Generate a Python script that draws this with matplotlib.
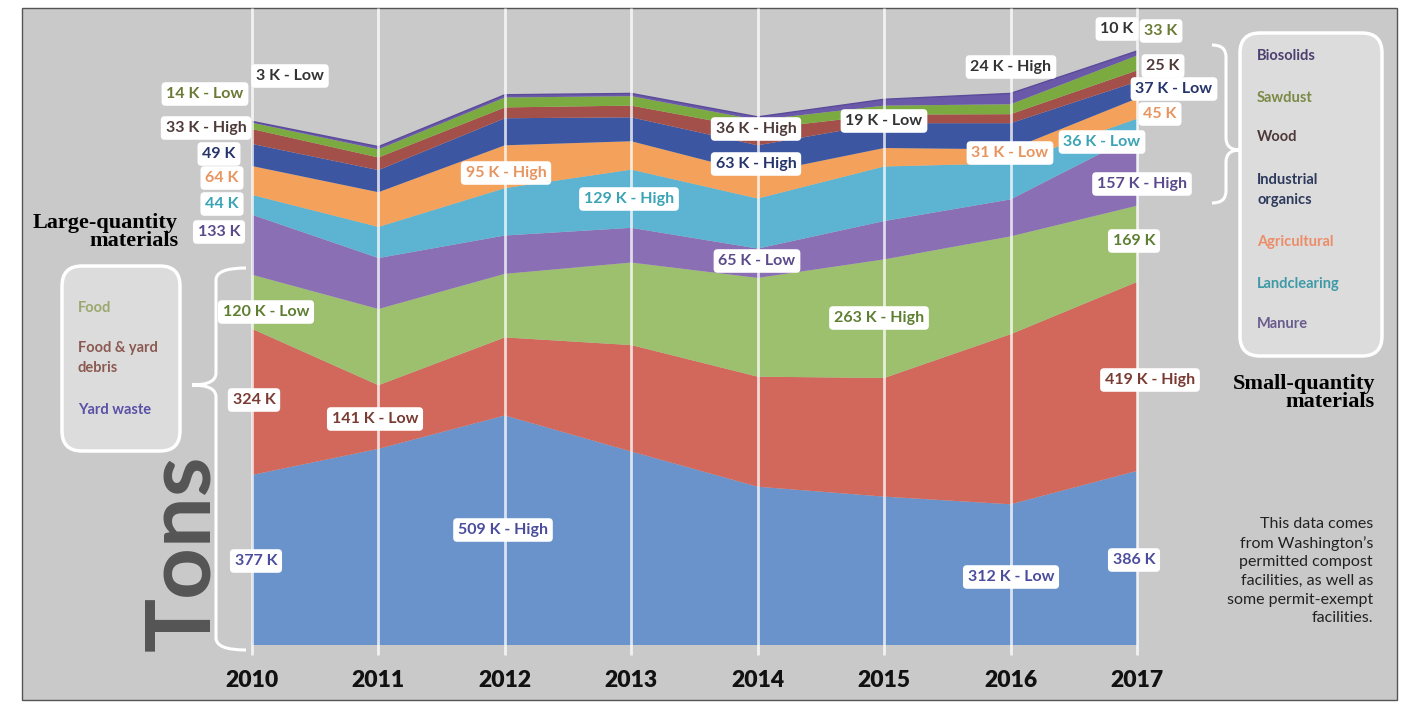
import numpy as np
import matplotlib
matplotlib.use("Agg")
from matplotlib import pyplot as plt
from matplotlib.patches import FancyBboxPatch, PathPatch, Rectangle
from matplotlib.path import Path
from matplotlib.transforms import Affine2D

W, H = 1403, 703

years = [2010, 2011, 2012, 2013, 2014, 2015, 2016, 2017]

# thousands of tons, bottom layer first
yard_waste = [377, 435, 509, 429, 351, 329, 312, 386]
food_yard = [324, 141, 173, 236, 244, 263, 377, 419]
food = [120, 169, 141, 183, 219, 263, 217, 169]
manure = [133, 113, 85, 77, 65, 85, 82, 157]
landclearing = [44, 69, 105, 129, 111, 121, 80, 36]
agricultural = [64, 77, 95, 63, 55, 41, 31, 45]
industrial = [49, 49, 60, 53, 63, 55, 58, 37]
wood = [33, 28, 24, 26, 36, 19, 20, 25]
sawdust = [14, 18, 22, 21, 20, 20, 22, 33]
biosolids = [3, 6, 6, 6, 7, 14, 24, 10]

series = [yard_waste, food_yard, food, manure, landclearing,
          agricultural, industrial, wood, sawdust, biosolids]
colors = ['#6a93cb', '#d1685b', '#9dc06e', '#8b6fb4', '#5db4d2',
          '#f3a15b', '#3d56a1', '#a4504a', '#7bab40', '#6a58a8']

# label text colours per series
c_bio, c_saw, c_wood, c_ind = '#333333', '#6b7a35', '#4e3a38', '#25346a'
c_agr, c_land, c_man = '#e8945f', '#3aa3b5', '#5b4a8c'
c_food, c_fy, c_yard = '#5e7f32', '#7a3b33', '#4b4d9c'

labels = [
    ("3 K - Low", c_bio, 290, 76), ("14 K - Low", c_saw, 205, 94),
    ("33 K - High", c_wood, 206, 128), ("49 K", c_ind, 219, 154),
    ("64 K", c_agr, 222, 178), ("44 K", c_land, 222, 204),
    ("133 K", c_man, 219, 232), ("120 K - Low", c_food, 266, 312),
    ("324 K", c_fy, 254, 400), ("377 K", c_yard, 256, 561),
    ("141 K - Low", c_fy, 375, 419), ("95 K - High", c_agr, 506, 173),
    ("509 K - High", c_yard, 503, 530), ("129 K - High", c_land, 629, 199),
    ("36 K - High", c_wood, 756, 129), ("63 K - High", c_ind, 756, 164),
    ("65 K - Low", c_man, 757, 261), ("19 K - Low", c_bio, 884, 121),
    ("263 K - High", c_food, 879, 318), ("24 K - High", c_bio, 1011, 67),
    ("31 K - Low", c_agr, 1010, 153), ("312 K - Low", c_yard, 1011, 577),
    ("10 K", c_bio, 1117, 29), ("33 K", c_saw, 1161, 31),
    ("25 K", c_wood, 1163, 66), ("37 K - Low", c_ind, 1174, 89),
    ("45 K", c_agr, 1160, 114), ("36 K - Low", c_land, 1102, 142),
    ("157 K - High", c_man, 1142, 184), ("169 K", c_food, 1134, 241),
    ("419 K - High", c_fy, 1150, 380), ("386 K", c_yard, 1134, 560),
]

small_legend = [("Biosolids", '#4d3f70', 56), ("Sawdust", '#7a8a45', 98),
                ("Wood", '#4e3a3a', 137), ("Industrial\norganics", '#2d3a5c', 190),
                ("Agricultural", '#ec8d6a', 242), ("Landclearing", '#3e9aa6', 284),
                ("Manure", '#6a5c8e', 324)]
large_legend = [("Food", '#9aa86d', 308), ("Food & yard\ndebris", '#8a5a52', 358),
                ("Yard waste", '#5a50a6', 410)]

fig = plt.figure(figsize=(W / 100, H / 100), dpi=100, facecolor='white')
px = Affine2D().scale(1 / W, -1 / H).translate(0, 1) + fig.transFigure

# background panel
fig.patches.append(Rectangle((22, 8), 1375, 692, transform=px, fc='#c9c9c9',
                             ec='#555555', lw=1, zorder=-5))

x0, x1, base, kpx = 252, 1137, 645, 0.451
ymax = 1400
ax = fig.add_axes([x0 / W, (H - base) / H, (x1 - x0) / W, ymax * kpx / H])
ax.set_zorder(2)
ax.set_facecolor('none')
ax.stackplot(years, *series, colors=colors, lw=0, zorder=2)
ax.plot(years, np.sum(series, axis=0), color='#5a4a9a', lw=1, zorder=2)
ax.vlines(years, -22, 1412, color='white', lw=2, alpha=0.75, clip_on=False, zorder=3)
ax.set_xlim(2010, 2017)
ax.set_ylim(0, ymax)
for s in ax.spines.values():
    s.set_visible(False)
ax.set_yticks([])
ax.set_xticks(years)
ax.set_xticklabels([str(y) for y in years], fontsize=16.5, fontweight='heavy',
                   family='Lato', color='#111111')
ax.tick_params(axis='x', length=0, pad=18)

for txt, col, lx, ly in labels:
    fig.text(lx, ly, txt, transform=px, ha='center', va='center', color=col,
             fontsize=11.5, fontweight='bold', family='Lato', zorder=6,
             bbox=dict(boxstyle='round,pad=0.3,rounding_size=0.25', fc='white', ec='none'))

# legend boxes
fig.patches.append(FancyBboxPatch((1240, 33), 142, 323, boxstyle='round,pad=0,rounding_size=20',
                                  transform=px, fc='#dcdcdc', ec='white', lw=2.5, zorder=1))
for txt, col, ly in small_legend:
    fig.text(1257, ly, txt, transform=px, ha='left', va='center', color=col,
             fontsize=10.5, fontweight='bold', family='Lato', linespacing=1.55)
fig.patches.append(FancyBboxPatch((62, 266), 118, 185, boxstyle='round,pad=0,rounding_size=20',
                                  transform=px, fc='#dcdcdc', ec='white', lw=2.5, zorder=1))
for txt, col, ly in large_legend:
    fig.text(78, ly, txt, transform=px, ha='left', va='center', color=col,
             fontsize=10.5, fontweight='bold', family='Lato', linespacing=1.55)

fig.text(1375, 393, "Small-quantity\nmaterials", transform=px, ha='right', va='center',
         fontsize=16, fontweight='bold', family='Liberation Serif', linespacing=0.9)
fig.text(178, 232, "Large-quantity\nmaterials", transform=px, ha='right', va='center',
         fontsize=16, fontweight='bold', family='Liberation Serif', linespacing=0.9)

# braces
def brace(x_end, x_mid, x_tip, y0, ytip, y1):
    r = 12
    verts = [(x_end, y0), (x_mid, y0), (x_mid, y0 + r), (x_mid, ytip - r),
             (x_mid, ytip), (x_tip, ytip), (x_mid, ytip), (x_mid, ytip + r),
             (x_mid, y1 - r), (x_mid, y1), (x_end, y1)]
    codes = [Path.MOVETO, Path.CURVE3, Path.CURVE3, Path.LINETO,
             Path.CURVE3, Path.CURVE3, Path.CURVE3, Path.CURVE3,
             Path.LINETO, Path.CURVE3, Path.CURVE3]
    fig.patches.append(PathPatch(Path(verts, codes), transform=px, fc='none',
                                 ec='white', lw=2.2, zorder=1))

brace(246, 216, 192, 268, 385, 650)
brace(1212, 1226, 1240, 45, 150, 203)

fig.text(183, 553, "Tons", transform=px, rotation=90, ha='center', va='center',
         fontsize=65, fontweight='bold', family='Lato', color='#555555')

fig.text(1373, 571, "This data comes\nfrom Washington\u2019s\npermitted compost\n"
         "facilities, as well as\nsome permit-exempt\nfacilities.",
         transform=px, ha='right', va='center', fontsize=11.5, family='Lato',
         color='#222222', linespacing=1.42)

fig.savefig("out.png", dpi=100, facecolor=fig.get_facecolor())
